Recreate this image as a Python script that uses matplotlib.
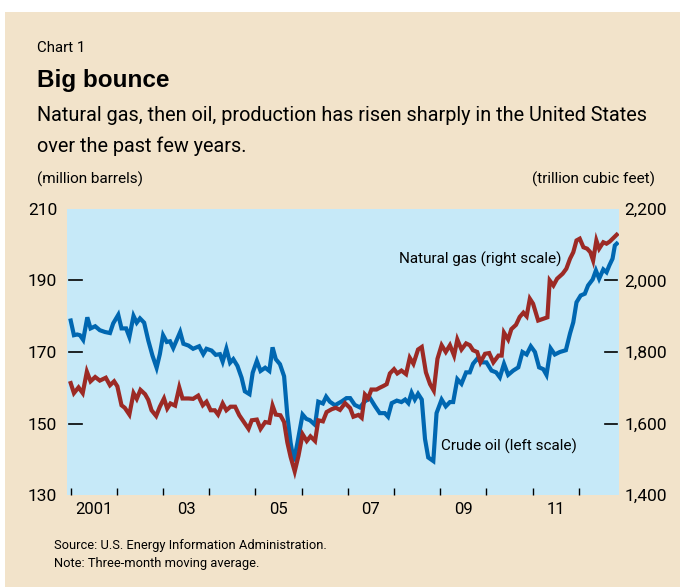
import matplotlib.pyplot as plt
from matplotlib.patches import Rectangle
from matplotlib.transforms import blended_transform_factory

# crude oil, million barrels (left scale), dates as decimal years
oil_dates = [2001.00, 2001.07, 2001.14, 2001.20, 2001.27, 2001.36, 2001.43, 2001.53, 2001.63, 2001.74,
             2001.85, 2001.92, 2002.03, 2002.10, 2002.20, 2002.27, 2002.36, 2002.43, 2002.50, 2002.59,
             2002.68, 2002.77, 2002.86, 2002.93, 2003.00, 2003.08, 2003.15, 2003.22, 2003.37, 2003.44,
             2003.55, 2003.65, 2003.78, 2003.87, 2003.94, 2004.05, 2004.14, 2004.23, 2004.29, 2004.37,
             2004.45, 2004.52, 2004.61, 2004.70, 2004.77, 2004.87, 2004.94, 2005.03, 2005.11, 2005.21,
             2005.30, 2005.37, 2005.44, 2005.53, 2005.62, 2005.69, 2005.76, 2005.83, 2005.91, 2006.02,
             2006.10, 2006.18, 2006.29, 2006.36, 2006.46, 2006.53, 2006.61, 2006.72,
             2006.87, 2006.97, 2007.05, 2007.15, 2007.26, 2007.37, 2007.48, 2007.59, 2007.69, 2007.80,
             2007.87, 2007.95, 2008.06, 2008.16, 2008.24, 2008.31, 2008.38, 2008.45, 2008.52, 2008.60,
             2008.67, 2008.74, 2008.85, 2008.92, 2009.03, 2009.12, 2009.21, 2009.28, 2009.37, 2009.46,
             2009.56, 2009.64, 2009.71, 2009.80, 2009.90, 2010.00, 2010.11, 2010.21, 2010.29, 2010.38,
             2010.47, 2010.58, 2010.69, 2010.78, 2010.87, 2010.96, 2011.05, 2011.14, 2011.23, 2011.30,
             2011.39, 2011.48, 2011.59, 2011.72, 2011.81,
             2011.88, 2011.95, 2012.04, 2012.13, 2012.20, 2012.30, 2012.37, 2012.44, 2012.53, 2012.60,
             2012.66, 2012.73, 2012.78, 2012.82]
oil = [178.8, 174.7, 174.9, 174.7, 173.4, 179.7, 176.6, 177.2, 176.1, 175.6,
       175.3, 178.0, 180.4, 176.6, 176.6, 174.2, 180.1, 178.2, 179.4, 178.2,
       173.2, 169.0, 165.6, 169.4, 174.7, 172.8, 173.0, 171.1, 175.6, 172.3,
       171.8, 170.9, 171.6, 169.4, 170.9, 170.4, 169.2, 169.4, 167.3, 170.9,
       167.0, 168.0, 166.1, 162.8, 159.0, 158.2, 164.2, 167.5, 164.7, 165.6,
       164.7, 171.3, 168.0, 166.6, 163.2, 152.3, 144.7, 139.4, 144.7, 152.5,
       151.3, 150.9, 149.6, 156.1, 155.6, 157.5, 156.1, 155.1,
       156.2, 157.1, 157.1, 155.2, 154.5, 156.2, 157.1, 154.8, 152.9, 152.9,
       151.9, 155.7, 156.4, 156.0, 156.7, 155.7, 158.6, 156.7, 158.3, 156.7,
       145.7, 140.5, 139.5, 152.9, 156.7, 154.8, 156.0, 156.0, 162.4, 161.1,
       164.3, 164.3, 166.7, 168.1, 167.1, 167.1, 164.8, 164.3, 162.9, 166.7,
       163.6, 164.8, 165.7, 170.0, 169.3, 171.6, 170.0, 165.7, 165.2, 163.6,
       171.0, 169.3, 170.0, 170.5, 175.2,
       178.3, 183.9, 185.8, 186.3, 188.6, 190.3, 192.8, 190.5, 193.1, 192.3,
       194.2, 196.1, 199.8, 200.3]

# natural gas, trillion cubic feet (right scale)
gas_dates = [2001.00, 2001.07, 2001.17, 2001.26, 2001.35, 2001.43, 2001.53, 2001.63, 2001.76, 2001.85,
             2001.94, 2002.01, 2002.10, 2002.17, 2002.27, 2002.36, 2002.43, 2002.51, 2002.61, 2002.68,
             2002.75, 2002.85, 2002.93, 2003.02, 2003.09, 2003.16, 2003.26, 2003.35, 2003.42, 2003.55,
             2003.65, 2003.76, 2003.86, 2003.94, 2004.03, 2004.12, 2004.19, 2004.29, 2004.37, 2004.46,
             2004.56, 2004.65, 2004.74, 2004.85, 2004.92, 2005.03, 2005.11, 2005.21, 2005.30, 2005.37,
             2005.44, 2005.54, 2005.62, 2005.69, 2005.76, 2005.85, 2005.93, 2006.02, 2006.11, 2006.19,
             2006.29, 2006.36, 2006.46, 2006.54, 2006.65, 2006.74,
             2006.83, 2006.94, 2007.05, 2007.12, 2007.23, 2007.30, 2007.37, 2007.44, 2007.51, 2007.62,
             2007.69, 2007.77, 2007.84, 2007.91, 2008.00, 2008.07, 2008.16, 2008.26, 2008.34, 2008.42,
             2008.52, 2008.60, 2008.69, 2008.78, 2008.86, 2008.94, 2009.03, 2009.12, 2009.21, 2009.30,
             2009.37, 2009.46, 2009.56, 2009.64, 2009.71, 2009.80, 2009.87, 2009.97, 2010.06, 2010.15,
             2010.26, 2010.33, 2010.38, 2010.47, 2010.54, 2010.64, 2010.72, 2010.80, 2010.87,
             2010.94, 2011.01, 2011.12, 2011.23, 2011.32, 2011.37, 2011.45, 2011.53, 2011.65, 2011.73,
             2011.81, 2011.88, 2011.95, 2012.02, 2012.10, 2012.18, 2012.25, 2012.31, 2012.38, 2012.44,
             2012.53, 2012.60, 2012.67, 2012.74, 2012.82]
gas = [1713, 1685, 1701, 1685, 1745, 1718, 1730, 1720, 1728, 1707,
       1718, 1704, 1651, 1644, 1625, 1685, 1669, 1694, 1682, 1666,
       1637, 1621, 1647, 1670, 1642, 1656, 1650, 1701, 1670, 1670,
       1669, 1678, 1651, 1661, 1637, 1637, 1625, 1656, 1637, 1647,
       1647, 1623, 1606, 1585, 1609, 1611, 1585, 1604, 1602, 1650,
       1625, 1623, 1604, 1547, 1507, 1466, 1509, 1570, 1551, 1564,
       1551, 1609, 1606, 1632, 1640, 1644,
       1638, 1657, 1643, 1619, 1624, 1616, 1681, 1671, 1695, 1695,
       1700, 1705, 1710, 1740, 1752, 1740, 1748, 1738, 1784, 1767,
       1807, 1814, 1743, 1710, 1692, 1781, 1819, 1800, 1819, 1790,
       1835, 1807, 1824, 1819, 1805, 1800, 1771, 1795, 1797, 1771,
       1790, 1790, 1854, 1835, 1864, 1876, 1898, 1910, 1900,
       1949, 1935, 1888, 1893, 1897, 2000, 1986, 2005, 2019, 2033,
       2061, 2079, 2112, 2117, 2093, 2089, 2079, 2056, 2112, 2089,
       2107, 2103, 2109, 2118, 2128]

year_ticks = list(range(2001, 2013))
year_labels = ['2001', '03', '05', '07', '09', '11']
left_ticks = [130, 150, 170, 190, 210]
right_ticks = [1400, 1600, 1800, 2000, 2200]

plt.rcParams['font.family'] = ['Roboto', 'DejaVu Sans']

beige = '#F2E3CA'
blue = '#0067B1'
red = '#9C2A25'

fig = plt.figure(figsize=(6.8, 5.87), dpi=100)
fig.patches.append(Rectangle((5 / 680, 0), 675 / 680, 575 / 587, transform=fig.transFigure,
                             facecolor=beige, edgecolor='none', zorder=-10))

ax = fig.add_axes([67 / 680, 92 / 587, 552 / 680, 286 / 587])
ax.set_facecolor('#C6E9F8')
ax.plot(oil_dates, oil, color=blue, lw=3.0, solid_joinstyle='miter')
ax.set_xlim(2000.92, 2012.87)
ax.set_ylim(130, 210)
ax.set_yticks(left_ticks)
ax.set_yticklabels([str(t) for t in left_ticks], fontsize=12.5)
ax.tick_params(axis='y', length=0, pad=7)

ax.set_xticks(year_ticks)
ax.set_xticklabels([])
ax.set_xticks([y + 0.5 for y in range(2001, 2013, 2)], minor=True)
ax.set_xticklabels(year_labels, minor=True, fontsize=12)
ax.tick_params(axis='x', which='major', direction='in', length=5, width=1)
ax.tick_params(axis='x', which='minor', length=0, pad=5)
for s in ax.spines.values():
    s.set_visible(False)

ax2 = ax.twinx()
ax2.plot(gas_dates, gas, color=red, lw=3.0, solid_joinstyle='miter')
ax2.set_ylim(1400, 2200)
ax2.set_yticks(right_ticks)
ax2.set_yticklabels(['{:,}'.format(t) for t in right_ticks], fontsize=12.5)
ax2.tick_params(axis='y', length=0, pad=4)
for s in ax2.spines.values():
    s.set_visible(False)

# short inner tick marks for the middle values only
lt = blended_transform_factory(ax.transAxes, ax.transData)
for v in left_ticks[1:-1]:
    ax.plot([0.004, 0.027], [v, v], transform=lt, color='black', lw=1.2, zorder=1)
rt = blended_transform_factory(ax2.transAxes, ax2.transData)
for v in right_ticks[1:-1]:
    ax2.plot([0.975, 0.997], [v, v], transform=rt, color='black', lw=1.2, zorder=1)

ax.text(2011.63, 196.0, 'Natural gas (right scale)', ha='right', va='center', fontsize=11)
ax.text(2009.01, 143.5, 'Crude oil (left scale)', ha='left', va='center', fontsize=11)

fig.text(37 / 680, 1 - 48 / 587, 'Chart 1', fontsize=10.8, va='center')
fig.text(37 / 680, 1 - 80 / 587, 'Big bounce', fontsize=17.5, fontweight='bold', va='center',
         family=['Liberation Sans', 'DejaVu Sans'])
fig.text(37 / 680, 1 - 116 / 587,
         'Natural gas, then oil, production has risen sharply in the United States',
         fontsize=14.3, va='center')
fig.text(37 / 680, 1 - 146 / 587, 'over the past few years.', fontsize=14.3, va='center')
fig.text(37 / 680, 1 - 179 / 587, '(million barrels)', fontsize=11, va='center')
fig.text(655 / 680, 1 - 179 / 587, '(trillion cubic feet)', fontsize=11, va='center', ha='right')
fig.text(54 / 680, 1 - 546 / 587, 'Source: U.S. Energy Information Administration.', fontsize=9.3, va='center')
fig.text(54 / 680, 1 - 563 / 587, 'Note: Three-month moving average.', fontsize=9.3, va='center')

plt.savefig('out.png', dpi=100)
